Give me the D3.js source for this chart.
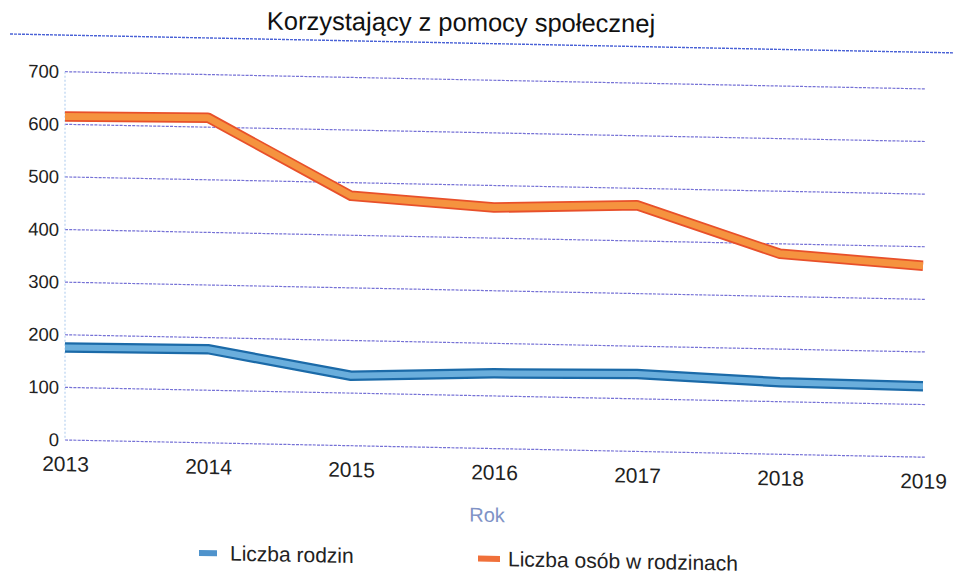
<!DOCTYPE html>
<html>
<head>
<meta charset="utf-8">
<script src="https://cdn.jsdelivr.net/npm/d3@7"></script>
<style>
  html, body { margin: 0; padding: 0; background: #fff; }
  svg { display: block; font-family: "Liberation Sans", Arial, sans-serif; }
</style>
</head>
<body>
<svg id="chart" width="953" height="575"></svg>
<script>
const title = "Korzystający z pomocy społecznej";
const years = ["2013", "2014", "2015", "2016", "2017", "2018", "2019"];
const liczbaRodzin = [176, 178, 133, 143, 147, 137, 135];
const liczbaOsob = [615, 618, 475, 458, 468, 381, 364];
const yTicks = [0, 100, 200, 300, 400, 500, 600, 700];
const seriesNames = ["Liczba rodzin", "Liczba osób w rodzinach"];
const xAxisTitle = "Rok";

const svg = d3.select("#chart");

// title (nearly level in the scan)
svg.append("text").attr("x", 461).attr("y", 31).attr("text-anchor", "middle")
  .attr("transform", "rotate(0.4,461,31)")
  .attr("font-size", 25.5).attr("fill", "#111").text(title);

// scanned page is slightly skewed
const g = svg.append("g").attr("transform", "matrix(1,0.02,0,1,0,0)");

const x = d3.scalePoint().domain(years).range([65, 923]);
const y = d3.scaleLinear().domain([0, 700]).range([438.7, 70.4]);

g.append("line").attr("x1", 10).attr("x2", 953).attr("y1", 33.8).attr("y2", 33.8)
  .attr("stroke", "#4a62d6").attr("stroke-width", 1.4).attr("stroke-dasharray", "3,1");

// gridlines
g.append("g").selectAll("line").data(yTicks).join("line")
  .attr("x1", 65).attr("x2", 925)
  .attr("y1", d => y(d)).attr("y2", d => y(d))
  .attr("stroke", "#7672d6").attr("stroke-width", 1.2).attr("stroke-dasharray", "3,1.2");
g.append("line").attr("x1", 65).attr("x2", 65).attr("y1", y(700)).attr("y2", y(0))
  .attr("stroke", "#a9c9ee").attr("stroke-width", 1).attr("stroke-dasharray", "2,2");

// y axis labels
const yAxis = d3.axisLeft(y).tickValues(yTicks).tickSize(0).tickPadding(6);
const ya = g.append("g").attr("transform", "translate(65,0)").call(yAxis);
ya.select(".domain").remove();
ya.selectAll("text").attr("font-size", 18.5).attr("fill", "#222")
  .attr("font-family", "'Liberation Sans', Arial, sans-serif");

// x axis labels
const xAxis = d3.axisBottom(x).tickSize(0).tickPadding(0);
const xa = g.append("g").attr("transform", "translate(0,455)").call(xAxis);
xa.select(".domain").remove();
xa.selectAll("text").attr("font-size", 21).attr("fill", "#222").attr("dy", "0.71em")
  .attr("font-family", "'Liberation Sans', Arial, sans-serif");

g.append("text").attr("x", 487).attr("y", 512).attr("text-anchor", "middle")
  .attr("font-size", 20).attr("fill", "#7f93c6").text(xAxisTitle);

// lines
const line = d3.line().x((d, i) => x(years[i])).y(d => y(d));
function drawSeries(data, outer, inner, wo, wi) {
  g.append("path").datum(data).attr("d", line).attr("fill", "none")
    .attr("stroke", outer).attr("stroke-width", wo).attr("stroke-linejoin", "round");
  g.append("path").datum(data).attr("d", line).attr("fill", "none")
    .attr("stroke", inner).attr("stroke-width", wi).attr("stroke-linejoin", "round");
}
drawSeries(liczbaOsob, "#e8502a", "#f5933f", 10.5, 7);
drawSeries(liczbaRodzin, "#1b6aa8", "#6aaedc", 10.5, 6);

// legend
const legend = [
  {name: seriesNames[0], sx: 199, sw: 18, tx: 230, c: "#4f93cc"},
  {name: seriesNames[1], sx: 478, sw: 22, tx: 508, c: "#f0703a"}
];
const lg = g.append("g");
lg.selectAll("rect").data(legend).join("rect")
  .attr("x", d => d.sx).attr("y", 546).attr("width", d => d.sw).attr("height", 6)
  .attr("fill", d => d.c);
lg.selectAll("text").data(legend).join("text")
  .attr("x", d => d.tx).attr("y", 556).attr("font-size", 21).attr("fill", "#222")
  .text(d => d.name);
</script>
</body>
</html>
